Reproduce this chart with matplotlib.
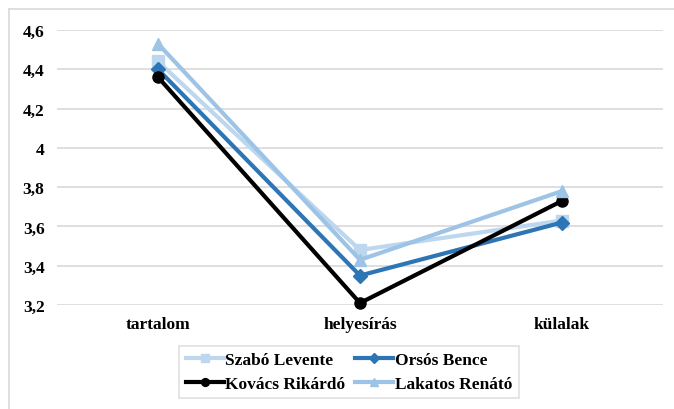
import matplotlib
matplotlib.use("Agg")
import matplotlib.pyplot as plt
from matplotlib.lines import Line2D

categories = ['tartalom', 'helyesírás', 'külalak']
szabo = [4.44, 3.48, 3.63]
orsos = [4.40, 3.35, 3.62]
kovacs = [4.36, 3.21, 3.73]
lakatos = [4.53, 3.43, 3.78]
yticks = [3.2, 3.4, 3.6, 3.8, 4.0, 4.2, 4.4, 4.6]
ylabels = ['3,2', '3,4', '3,6', '3,8', '4', '4,2', '4,4', '4,6']

plt.rcParams['font.family'] = ['Liberation Serif', 'DejaVu Serif']
plt.rcParams['font.weight'] = 'bold'

fig = plt.figure(figsize=(6.74, 4.10), dpi=100)
ax = fig.add_axes([57 / 674, 1 - 306 / 410, 606 / 674, 275 / 410])

x = range(len(categories))
l1, = ax.plot(x, szabo, color='#BDD7EE', lw=3, marker='s', ms=8, clip_on=False, label='Szabó Levente')
l2, = ax.plot(x, orsos, color='#2E75B6', lw=3, marker='D', ms=7, clip_on=False, label='Orsós Bence')
l3, = ax.plot(x, kovacs, color='black', lw=3, marker='o', ms=8, clip_on=False, label='Kovács Rikárdó')
l4, = ax.plot(x, lakatos, color='#9DC3E6', lw=3, marker='^', ms=9, clip_on=False, label='Lakatos Renátó')

ax.set_xlim(-0.5, 2.5)
ax.set_ylim(3.2, 4.6)
ax.set_yticks(yticks)
ax.set_yticklabels(ylabels)
ax.set_xticks(list(x))
ax.set_xticklabels(categories)
ax.tick_params(length=0, labelsize=12.5, pad=9)
ax.tick_params(axis='x', pad=8)
ax.grid(axis='y', color='#D9D9D9', lw=1.2)
ax.set_axisbelow(True)
for s in ax.spines.values():
    s.set_visible(False)

# row-major order like the original legend
handles = [l1, l3, l2, l4]
leg = ax.legend(handles, [h.get_label() for h in handles],
                loc='upper center', bbox_to_anchor=(349 / 674, 1 - 347 / 410),
                bbox_transform=fig.transFigure, ncol=2, fontsize=12.5,
                frameon=True, fancybox=False, edgecolor='#D9D9D9',
                handlelength=2.2, handletextpad=0.1, columnspacing=0.55,
                borderpad=0.35, labelspacing=0.45, markerscale=0.7, borderaxespad=0)
leg.get_frame().set_linewidth(1.2)

# outer chart border
fig.add_artist(Line2D([9 / 674, 9 / 674], [0, 1 - 10 / 410], color='#D9D9D9', lw=1.2,
                      transform=fig.transFigure))
fig.add_artist(Line2D([9 / 674, 1], [1 - 10 / 410, 1 - 10 / 410], color='#D9D9D9', lw=1.2,
                      transform=fig.transFigure))

fig.savefig('out.png', dpi=100)
